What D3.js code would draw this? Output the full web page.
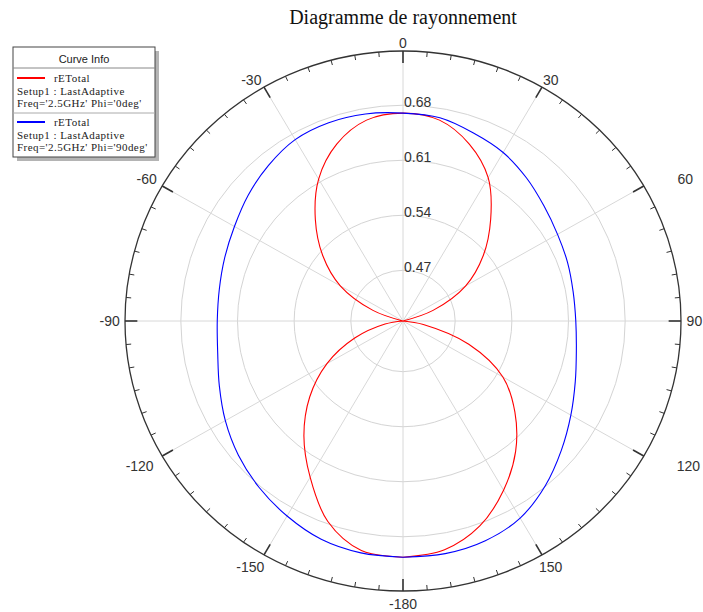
<!DOCTYPE html>
<html>
<head>
<meta charset="utf-8">
<script src="https://cdn.jsdelivr.net/npm/d3@7"></script>
<style>
  body { margin: 0; background: #fff; }
  svg { display: block; }
</style>
</head>
<body>
<div id="chart"></div>
<script>
// angles in degrees, 0 at top, clockwise positive
const angles = [-180, -170, -160, -150, -140, -130, -120, -110, -100, -90, -80, -70, -60, -50, -40, -30, -20, -10,
  0, 10, 20, 30, 40, 50, 60, 70, 80, 90, 100, 110, 120, 130, 140, 150, 160, 170, 180];

// rETotal, Phi = 0deg (red)
const phi0 = [0.706, 0.702, 0.677, 0.635, 0.596, 0.556, 0.514, 0.469, 0.428, 0.400, 0.402, 0.445, 0.495, 0.535, 0.574, 0.614, 0.645, 0.665,
  0.670, 0.665, 0.645, 0.616, 0.574, 0.535, 0.495, 0.445, 0.402, 0.400, 0.431, 0.492, 0.548, 0.586, 0.622, 0.654, 0.683, 0.701, 0.706];

// rETotal, Phi = 90deg (blue)
const phi90 = [0.706, 0.705, 0.701, 0.692, 0.682, 0.671, 0.659, 0.647, 0.638, 0.635, 0.636, 0.640, 0.646, 0.655, 0.664, 0.672, 0.674, 0.673,
  0.670, 0.668, 0.660, 0.653, 0.643, 0.633, 0.626, 0.622, 0.619, 0.619, 0.623, 0.632, 0.645, 0.661, 0.679, 0.695, 0.703, 0.706, 0.706];

const ringTicks = [0.47, 0.54, 0.61, 0.68];
const angleLabels = [0, 30, 60, 90, 120, 150, -180, -150, -120, -90, -60, -30];

const series = [
  { name: "rETotal", setup: "Setup1 : LastAdaptive", freq: "Freq='2.5GHz' Phi='0deg'", color: "#ff0000", values: phi0 },
  { name: "rETotal", setup: "Setup1 : LastAdaptive", freq: "Freq='2.5GHz' Phi='90deg'", color: "#0000ff", values: phi90 }
];

const width = 703, height = 612;
const cx = 403, cy = 321;
const R = 270, sx = 278 / 270;   // plot is slightly wider than tall

const r = d3.scaleLinear().domain([0.4055, 0.749]).range([0, R]).clamp(true);
const rad = d => d * Math.PI / 180;
const px = (deg, rr) => cx + rr * sx * Math.sin(rad(deg));
const py = (deg, rr) => cy - rr * Math.cos(rad(deg));

// the tool places some angle labels off the plain radial position
const labelNudge = { 0: [0, 5], 30: [2, 4], 60: [30, 0], 120: [33, 4], 150: [2, 1],
  "-30": [-6, 4], "-60": [-4, 0], "-90": [-2, 0], "-120": [-11, 4], "-150": [-7, 1] };

const svg = d3.select("#chart").append("svg")
  .attr("width", width).attr("height", height);

// title
svg.append("text")
  .attr("x", cx).attr("y", 24)
  .attr("text-anchor", "middle")
  .style("font-family", "'Liberation Serif', 'Times New Roman', serif")
  .style("font-size", "20px")
  .attr("fill", "#111")
  .text("Diagramme de rayonnement");

// grid rings
svg.append("g").selectAll("ellipse")
  .data(ringTicks)
  .join("ellipse")
  .attr("cx", cx).attr("cy", cy)
  .attr("rx", d => r(d) * sx).attr("ry", d => r(d))
  .attr("fill", "none").attr("stroke", "#d4d4d4").attr("stroke-width", 1);

// radial grid lines
svg.append("g").selectAll("line")
  .data(d3.range(0, 360, 30))
  .join("line")
  .attr("x1", cx).attr("y1", cy)
  .attr("x2", d => px(d, R)).attr("y2", d => py(d, R))
  .attr("stroke", "#d8d8d8").attr("stroke-width", 1);

// ring labels
svg.append("g").selectAll("text")
  .data(ringTicks)
  .join("text")
  .attr("x", cx + 1).attr("y", d => cy - r(d) + 1.5)
  .style("font-family", "'Liberation Sans', Arial, sans-serif")
  .style("font-size", "14px")
  .attr("fill", "#333")
  .text(d => d3.format(".2f")(d));

// curves
const line = d3.line()
  .x((d, i) => px(angles[i], r(d)))
  .y((d, i) => py(angles[i], r(d)))
  .curve(d3.curveCatmullRom.alpha(0.5));

svg.append("g").selectAll("path")
  .data(series)
  .join("path")
  .attr("d", d => line(d.values))
  .attr("fill", "none")
  .attr("stroke", d => d.color)
  .attr("stroke-width", 1.1);

// outer circle and ticks
svg.append("ellipse")
  .attr("cx", cx).attr("cy", cy)
  .attr("rx", R * sx).attr("ry", R)
  .attr("fill", "none").attr("stroke", "#333").attr("stroke-width", 1.3);

svg.append("g").selectAll("line")
  .data(d3.range(0, 360, 5))
  .join("line")
  .attr("x1", d => px(d, R)).attr("y1", d => py(d, R))
  .attr("x2", d => px(d, R - (d % 30 === 0 ? 12 : 5)))
  .attr("y2", d => py(d, R - (d % 30 === 0 ? 12 : 5)))
  .attr("stroke", "#333").attr("stroke-width", d => d % 30 === 0 ? 1.6 : 1);

// angle labels
svg.append("g").selectAll("text")
  .data(angleLabels)
  .join("text")
  .attr("x", d => px(d, R + 13) + (labelNudge[d] || [0, 0])[0])
  .attr("y", d => py(d, R + 13) + (labelNudge[d] || [0, 0])[1])
  .attr("text-anchor", "middle")
  .attr("dy", "0.35em")
  .style("font-family", "'Liberation Sans', Arial, sans-serif")
  .style("font-size", "14px")
  .attr("fill", "#333")
  .text(d => d);

// legend
const lg = svg.append("g").attr("transform", "translate(13,47)");
const lw = 142, lh = 110;
lg.append("rect").attr("x", 4).attr("y", 4).attr("width", lw).attr("height", lh).attr("fill", "#b4b4b4");
lg.append("rect").attr("width", lw).attr("height", lh).attr("fill", "#fff").attr("stroke", "#444").attr("stroke-width", 1);
lg.append("text")
  .attr("x", lw / 2).attr("y", 16)
  .attr("text-anchor", "middle")
  .style("font-family", "'Liberation Sans', Arial, sans-serif")
  .style("font-size", "11px")
  .attr("fill", "#222")
  .text("Curve Info");
lg.append("line").attr("x1", 0).attr("x2", lw).attr("y1", 21).attr("y2", 21).attr("stroke", "#888");

const entry = lg.selectAll("g.entry")
  .data(series)
  .join("g")
  .attr("class", "entry")
  .attr("transform", (d, i) => `translate(0,${22 + i * 44})`);
entry.filter((d, i) => i > 0).append("line")
  .attr("x1", 0).attr("x2", lw).attr("y1", 0).attr("y2", 0).attr("stroke", "#aaa");
entry.append("line")
  .attr("x1", 4).attr("x2", 32).attr("y1", 9).attr("y2", 9)
  .attr("stroke", d => d.color).attr("stroke-width", 2);
const serif = "'Liberation Serif', 'Times New Roman', serif";
const rows = [[41, 12.5, d => d.name], [4, 25.5, d => d.setup], [4, 38, d => d.freq]];
rows.forEach(([x, y, f]) => {
  entry.append("text").attr("x", x).attr("y", y)
    .style("font-family", serif).style("font-size", "11px")
    .style("letter-spacing", "0.45px").attr("fill", "#222")
    .text(f);
});
</script>
</body>
</html>
